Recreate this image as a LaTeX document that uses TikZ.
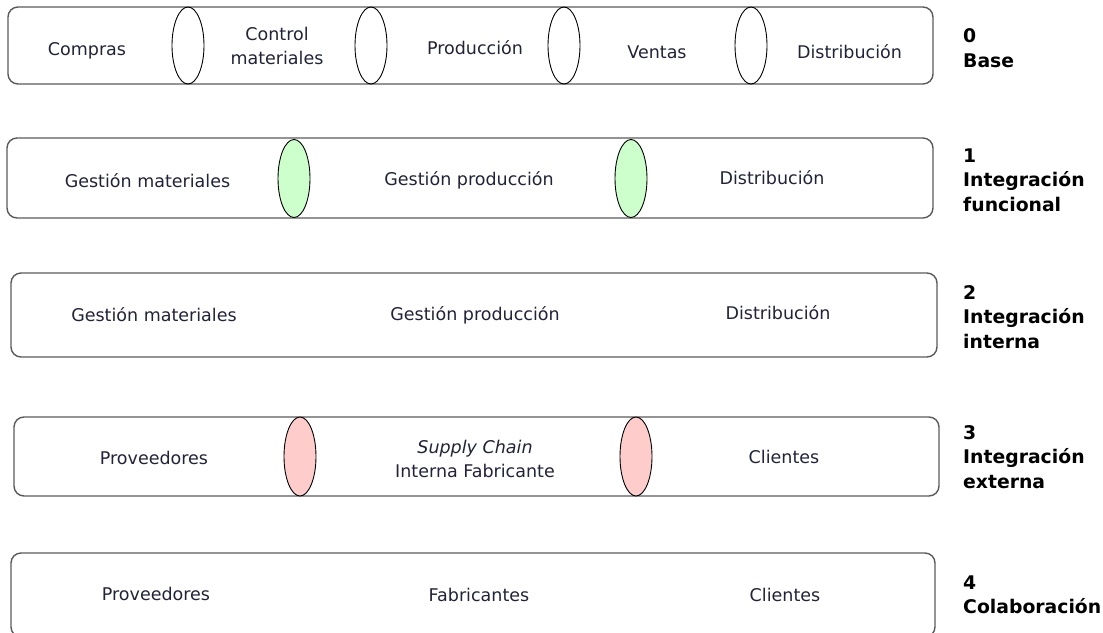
\documentclass[tikz,border=0pt]{standalone}
\usepackage{fontspec}
\setmainfont{DejaVu Sans}
\definecolor{Borde}{HTML}{5A5A5A}
\definecolor{Tinta}{HTML}{222238}
\definecolor{Verde}{HTML}{CCFFCC}
\definecolor{Rosa}{HTML}{FFCCCC}
\usetikzlibrary{shapes.geometric}

\begin{document}
\begin{tikzpicture}[x=1pt,y=-1pt,
    fila/.style={draw=Borde,line width=1.4pt,rounded corners=10pt,inner sep=0pt},
    junta/.style={ellipse,draw=black,line width=0.9pt,inner sep=0pt,minimum width=32pt},
    txt/.style={text=Tinta,align=center,font=\fontsize{17.5}{24}\selectfont},
    nivel/.style={anchor=west,align=left,inner sep=0pt,font=\fontsize{18.8}{24.5}\selectfont\bfseries}]
    \useasboundingbox (0,0) rectangle (1103,632);

    % Nivel 0: base
    \node[fila,minimum width=925pt,minimum height=77pt] (fila0) at (470.5,45.5) {};
    \node[junta,minimum height=77pt] (j01) at (188,45.5) {};
    \node[junta,minimum height=77pt] (j02) at (371,45.5) {};
    \node[junta,minimum height=77pt] (j03) at (564,45.5) {};
    \node[junta,minimum height=77pt] (j04) at (751,45.5) {};
    \node[txt] (compras) at (87,51) {Compras};
    \node[txt] (control) at (277,46) {Control\\materiales};
    \node[txt] (produccion) at (475,48) {Producción};
    \node[txt] (ventas) at (657,52) {Ventas};
    \node[txt] (distrib0) at (849.5,52) {Distribución};
    \node[nivel] (n0) at (963,48) {0\\Base};

    % Nivel 1: integracion funcional
    \node[fila,minimum width=926pt,minimum height=80pt] (fila1) at (470,178) {};
    \node[junta,fill=Verde,minimum height=78pt] (j11) at (294,178.5) {};
    \node[junta,fill=Verde,minimum height=78pt] (j12) at (631,178.5) {};
    \node[txt] (gmat1) at (147.5,181) {Gestión materiales};
    \node[txt] (gprod1) at (469,180) {Gestión producción};
    \node[txt] (distrib1) at (772,178) {Distribución};
    \node[nivel] (n1) at (963,180) {1\\Integración\\funcional};

    % Nivel 2: integracion interna
    \node[fila,minimum width=926pt,minimum height=84pt] (fila2) at (474,315) {};
    \node[txt] (gmat2) at (154,315) {Gestión materiales};
    \node[txt] (gprod2) at (475,315) {Gestión producción};
    \node[txt] (distrib2) at (778,313) {Distribución};
    \node[nivel] (n2) at (963,317) {2\\Integración\\interna};

    % Nivel 3: integracion externa
    \node[fila,minimum width=925pt,minimum height=79pt] (fila3) at (476.5,456.5) {};
    \node[junta,fill=Rosa,minimum height=79pt] (j31) at (300,456.5) {};
    \node[junta,fill=Rosa,minimum height=79pt] (j32) at (636,456.5) {};
    \node[txt] (prov3) at (154,458) {Proveedores};
    \node[txt] (scint) at (475,459) {\textit{Supply Chain}\\Interna Fabricante};
    \node[txt] (clientes3) at (784,457) {Clientes};
    \node[nivel] (n3) at (963,457) {3\\Integración\\externa};

    % Nivel 4: colaboracion
    \node[fila,minimum width=924pt,minimum height=84pt] (fila4) at (473,595) {};
    \node[txt] (prov4) at (156,594) {Proveedores};
    \node[txt] (fabric) at (479,595) {Fabricantes};
    \node[txt] (clientes4) at (785,595) {Clientes};
    \node[nivel] (n4) at (963,595) {4\\Colaboración};
\end{tikzpicture}
\end{document}
